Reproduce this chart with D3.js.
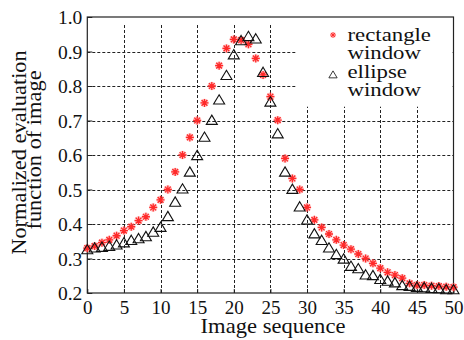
<!DOCTYPE html>
<html><head><meta charset="utf-8">
<script src="https://cdn.jsdelivr.net/npm/d3@7"></script>
<style>body{margin:0;background:#fff}svg{display:block}</style>
</head><body>
<svg id="c" width="464" height="340"></svg>
<script>
const imageSeq = d3.range(0, 51);
const rectangleWindow = [0.330,0.336,0.346,0.354,0.366,0.381,0.392,0.410,0.421,0.448,
  0.470,0.500,0.551,0.600,0.651,0.700,0.751,0.800,0.859,0.909,
  0.935,0.933,0.921,0.880,0.832,0.769,0.701,0.590,0.532,0.500,
  0.448,0.412,0.390,0.371,0.354,0.339,0.327,0.313,0.300,0.286,
  0.272,0.260,0.252,0.243,0.228,0.223,0.223,0.221,0.220,0.218,0.217];
const ellipseWindow = [0.327,0.332,0.334,0.337,0.341,0.347,0.354,0.359,0.365,0.378,
  0.392,0.423,0.465,0.503,0.552,0.600,0.653,0.702,0.761,0.832,
  0.892,0.933,0.945,0.938,0.841,0.755,0.663,0.552,0.502,0.451,
  0.413,0.373,0.354,0.332,0.313,0.300,0.279,0.272,0.254,0.252,
  0.241,0.236,0.231,0.223,0.221,0.218,0.217,0.215,0.214,0.211,0.211];
const xTicks = d3.range(0, 51, 5);
const yTicks = [0.2,0.3,0.4,0.5,0.6,0.7,0.8,0.9,1.0];
const legendLabels = [["rectangle","window"],["ellipse","window"]];
const xTitle = "Image sequence";
const yTitle = ["Normalized evaluation","function of image"];

const svg = d3.select("#c");
const font = '"Liberation Serif"';
const L = 87.3, R = 453.5, T = 17, B = 293;
const x = d3.scaleLinear().domain([0,50]).range([L,R]);
const y = d3.scaleLinear().domain([0.2,1.0]).range([B,T]);

function stext(px, py, s, size, k, anchor, rot){
  return svg.append("text").attr("x",0).attr("y",0)
    .attr("transform",`translate(${px},${py})${rot?` rotate(${rot})`:""} scale(${k},1)`)
    .attr("text-anchor",anchor).style("font-family",font).style("font-size",size+"px").attr("fill","#111").text(s);
}

// grid
const grid = svg.append("g").attr("stroke","#222").attr("stroke-width",1).attr("stroke-dasharray","3,2");
grid.selectAll("line.h").data(yTicks.filter(v=>v>0.2 && v<1.0)).join("line")
  .attr("x1",L).attr("x2",R).attr("y1",d=>Math.round(y(d))+0.5).attr("y2",d=>Math.round(y(d))+0.5);
grid.selectAll("line.v").data(xTicks.filter(v=>v>0 && v<50)).join("line")
  .attr("x1",d=>Math.round(x(d))+0.5).attr("x2",d=>Math.round(x(d))+0.5).attr("y1",T+8).attr("y2",B);

// legend background
svg.append("rect").attr("x",x(28.6)).attr("y",T+1).attr("width",R-x(28.6)-1).attr("height",y(0.74)-T-1).attr("fill","#fff");

// axes frame
svg.append("rect").attr("x",L).attr("y",T).attr("width",R-L).attr("height",B-T)
  .attr("fill","none").attr("stroke","#222").attr("stroke-width",1.2);

const yAxis = d3.axisLeft(y).tickValues(yTicks).tickFormat(d3.format(".1f")).tickSizeInner(-5).tickSizeOuter(0).tickPadding(5);
const ga = svg.append("g").attr("transform",`translate(${L},0)`).call(yAxis)
  .attr("font-family",null).attr("font-size",null);
ga.select(".domain").remove();
ga.selectAll("text").style("font-family",font).style("font-size","19.5px").attr("fill","#111").attr("dy","0.34em");
ga.selectAll("line").attr("stroke","#222");

const xAxis = d3.axisBottom(x).tickValues(xTicks).tickSizeInner(-4).tickSizeOuter(0).tickPadding(8);
const gx = svg.append("g").attr("transform",`translate(0,${B})`).call(xAxis)
  .attr("font-family",null).attr("font-size",null);
gx.select(".domain").remove();
gx.selectAll("text").style("font-family",font).style("font-size","19px").attr("fill","#111");
gx.selectAll("line").attr("stroke","#222");

// markers
function star(g){
  g.append("circle").attr("r",4.2).attr("fill","#ff6060").attr("opacity",0.35);
  g.append("path").attr("d","M-4,0H4M0,-4V4M-2.9,-2.9L2.9,2.9M-2.9,2.9L2.9,-2.9")
    .attr("stroke","#ff2a2a").attr("stroke-width",1.3).attr("fill","none");
}
function tri(g){
  g.append("path").attr("d","M0,-5.5L5.5,3.8L-5.5,3.8Z").attr("fill","none").attr("stroke","#111").attr("stroke-width",1.1);
}
svg.append("g").selectAll("g").data(imageSeq).join("g")
  .attr("transform",(d,i)=>`translate(${x(d)},${y(rectangleWindow[i])})`).each(function(){star(d3.select(this));});
svg.append("g").selectAll("g").data(imageSeq).join("g")
  .attr("transform",(d,i)=>`translate(${x(d)},${y(ellipseWindow[i])+0.8})`).each(function(){tri(d3.select(this));});

// legend
const ls = svg.append("g").attr("transform","translate(333,35)"); star(ls);
ls.selectAll("circle").attr("r",3); ls.select("path").attr("transform","scale(0.7)");
const lt = svg.append("g").attr("transform","translate(333,75)"); tri(lt);
lt.select("path").attr("transform","scale(0.75)");
legendLabels.forEach((lab,i)=>{
  lab.forEach((s,j)=>{ stext(347.5, 40.7+i*37+j*18.7, s, 19, 1.2, "start"); });
});

// axis titles
stext(273, 333, xTitle, 20, 1.13, "middle");
stext(25.5, 152.5, yTitle[0], 20, 1.12, "middle", -90);
stext(40.5, 150, yTitle[1], 20, 1.12, "middle", -90);
</script>
</body></html>
